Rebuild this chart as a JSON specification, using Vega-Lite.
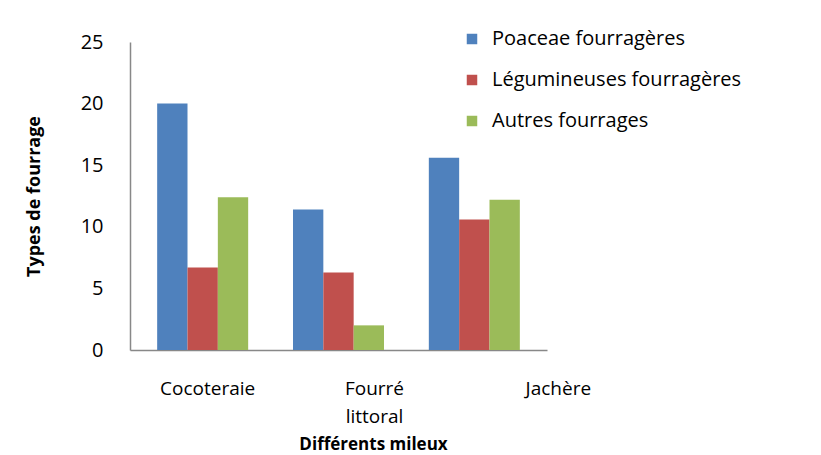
{
  "$schema": "https://vega.github.io/schema/vega-lite/v6.json",
  "width": 417,
  "height": 308,
  "autosize": "none",
  "padding": {"left": 130, "top": 42, "right": 274, "bottom": 105},
  "background": "white",
  "config": {"font": "Open Sans", "view": {"stroke": null}},
  "data": {"values": [
    {"milieu": "Cocoteraie", "type": "Poaceae fourragères", "valeur": 20.0},
    {"milieu": "Cocoteraie", "type": "Légumineuses fourragères", "valeur": 6.7},
    {"milieu": "Cocoteraie", "type": "Autres fourrages", "valeur": 12.4},
    {"milieu": "Fourré littoral", "type": "Poaceae fourragères", "valeur": 11.4},
    {"milieu": "Fourré littoral", "type": "Légumineuses fourragères", "valeur": 6.3},
    {"milieu": "Fourré littoral", "type": "Autres fourrages", "valeur": 2.0},
    {"milieu": "Jachère", "type": "Poaceae fourragères", "valeur": 15.6},
    {"milieu": "Jachère", "type": "Légumineuses fourragères", "valeur": 10.6},
    {"milieu": "Jachère", "type": "Autres fourrages", "valeur": 12.2}
  ]},
  "mark": {"type": "bar"},
  "encoding": {
    "x": {
      "field": "milieu", "type": "nominal",
      "sort": ["Cocoteraie", "Fourré littoral", "Jachère"],
      "scale": {"paddingInner": 0.33, "paddingOuter": 0.2},
      "axis": {
        "title": "Différents mileux",
        "titleFontWeight": "bold", "titleFontSize": 17, "titleColor": "black",
        "titleX": 243, "titleY": 99, "titleBaseline": "alphabetic",
        "labelAngle": 0, "labelFontSize": 19, "labelColor": "black",
        "labelPadding": 29, "labelLineHeight": 28,
        "labelExpr": "datum.label == 'Fourré littoral' ? ['Fourré', 'littoral'] : datum.label",
        "labelOffset": {"condition": [
          {"test": "datum.value == 'Jachère'", "value": 84},
          {"test": "datum.value == 'Fourré littoral'", "value": 36}
        ], "value": 5},
        "ticks": false, "domainColor": "#888888", "domainWidth": 1.5
      }
    },
    "xOffset": {
      "field": "type", "type": "nominal",
      "sort": ["Poaceae fourragères", "Légumineuses fourragères", "Autres fourrages"]
    },
    "y": {
      "field": "valeur", "type": "quantitative",
      "scale": {"domain": [0, 25]},
      "axis": {
        "title": "Types de fourrage",
        "titleFontWeight": "bold", "titleFontSize": 18, "titleColor": "black",
        "titlePadding": 37,
        "values": [0, 5, 10, 15, 20, 25],
        "labelFontSize": 20, "labelColor": "black", "labelPadding": 27,
        "ticks": false, "grid": false, "domainColor": "#888888", "domainWidth": 1.5
      }
    },
    "color": {
      "field": "type", "type": "nominal",
      "sort": ["Poaceae fourragères", "Légumineuses fourragères", "Autres fourrages"],
      "scale": {
        "domain": ["Poaceae fourragères", "Légumineuses fourragères", "Autres fourrages"],
        "range": ["#4F81BD", "#C0504D", "#9BBB59"]
      },
      "legend": {
        "title": null, "orient": "none", "legendX": 332, "legendY": -13,
        "symbolType": "square", "symbolSize": 110, "symbolStrokeWidth": 0,
        "labelFontSize": 20, "labelColor": "black", "labelOffset": 10,
        "rowPadding": 21, "padding": 0, "labelLimit": 400
      }
    }
  }
}
